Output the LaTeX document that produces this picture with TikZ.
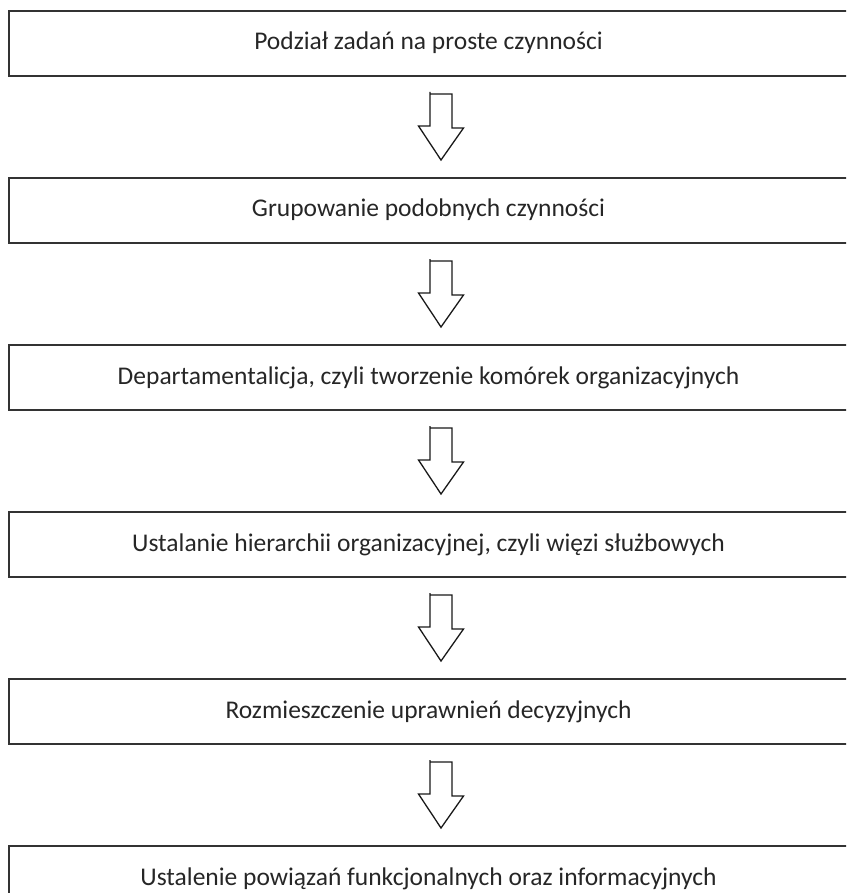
\documentclass[tikz,border=0pt]{standalone}
\usepackage{fontspec}
\setmainfont{Carlito}
\usetikzlibrary{positioning, calc}

\tikzset{
    stage/.style={draw=black!80, line width=2pt, minimum width=840pt,
        minimum height=65pt, inner sep=0pt, text height=18pt, text depth=5pt,
        font=\fontsize{25.5}{30}\selectfont, text=black!85},
    blockarrow/.style={draw=black!90, line width=1.3pt, fill=white, line join=miter}
}

\begin{document}
\begin{tikzpicture}[x=1pt, y=1pt, node distance=100pt]
    \useasboundingbox (0,0) rectangle (846,-893);
    \clip (0,0) rectangle (846,-893);

    \node[stage] (s1) at (428.5,-43.5) {Podział zadań na proste czynności};
    \node[stage, below=of s1] (s2) {Grupowanie podobnych czynności};
    \node[stage, below=of s2] (s3) {Departamentalicja, czyli tworzenie komórek organizacyjnych};
    \node[stage, below=of s3] (s4) {Ustalanie hierarchii organizacyjnej, czyli więzi służbowych};
    \node[stage, below=of s4] (s5) {Rozmieszczenie uprawnień decyzyjnych};
    \node[stage, below=of s5] (s6) {Ustalenie powiązań funkcjonalnych oraz informacyjnych};

    % hollow arrows between the stages
    \foreach \a/\b in {s1/s2, s2/s3, s3/s4, s4/s5, s5/s6}
        \draw[blockarrow] ($(\a.south)+(1.5,-17)$) -- ++(22,0) -- ++(0,-34)
            -- ++(11.5,0) -- ($(\b.north)+(12.5,17)$) -- ++(-22.5,34)
            -- ++(11.5,0) -- ++(0,34) -- cycle;
\end{tikzpicture}
\end{document}
